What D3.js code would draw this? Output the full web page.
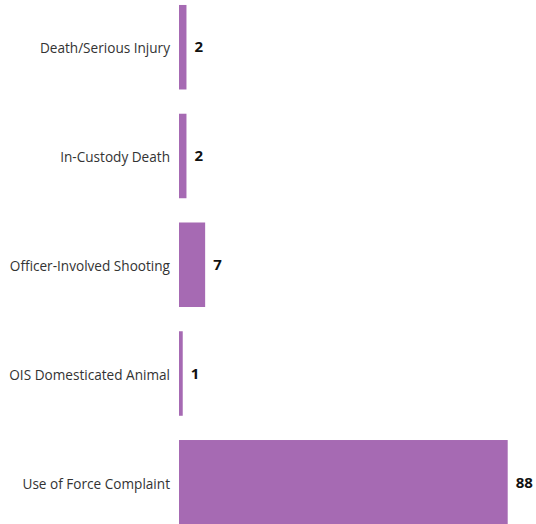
<!DOCTYPE html>
<html>
<head>
<meta charset="utf-8">
<script src="https://cdn.jsdelivr.net/npm/d3@7"></script>
<style>
  html, body { margin: 0; padding: 0; background: #fff; }
  svg { display: block; }
</style>
</head>
<body>
<svg id="chart" width="536" height="524"></svg>
<script>
const categories = [
  "Death/Serious Injury",
  "In-Custody Death",
  "Officer-Involved Shooting",
  "OIS Domesticated Animal",
  "Use of Force Complaint"
];
const counts = [2, 2, 7, 1, 88];

const width = 536;
const height = 524;
const barColor = "#a66ab3";

const svg = d3.select("#chart");

const x = d3.scaleLinear().domain([0, 88]).range([179, 507.7]);
const y = d3.scaleBand()
  .domain(categories)
  .range([-7, 536.5])
  .paddingInner(0.223)
  .paddingOuter(0.11);

const rows = categories.map((c, i) => ({ cat: c, val: counts[i] }));

svg.selectAll("rect.bar")
  .data(rows)
  .join("rect")
  .attr("class", "bar")
  .attr("x", x(0))
  .attr("y", d => y(d.cat))
  .attr("width", d => x(d.val) - x(0))
  .attr("height", y.bandwidth())
  .attr("fill", barColor);

// category labels on the left
svg.selectAll("text.cat")
  .data(rows)
  .join("text")
  .attr("class", "cat")
  .attr("x", 170)
  .attr("y", d => y(d.cat) + y.bandwidth() / 2 + 1.5)
  .attr("dy", "0.35em")
  .attr("text-anchor", "end")
  .attr("font-family", "'Open Sans', sans-serif")
  .attr("font-size", 13.6)
  .attr("fill", "#333")
  .text(d => d.cat);

// value labels at the bar ends
svg.selectAll("text.val")
  .data(rows)
  .join("text")
  .attr("class", "val")
  .attr("x", d => x(d.val) + 8)
  .attr("y", d => y(d.cat) + y.bandwidth() / 2)
  .attr("dy", "0.35em")
  .attr("font-family", "'Open Sans', sans-serif")
  .attr("font-weight", "bold")
  .attr("font-size", 15)
  .attr("fill", "#111")
  .text(d => d.val);
</script>
</body>
</html>
